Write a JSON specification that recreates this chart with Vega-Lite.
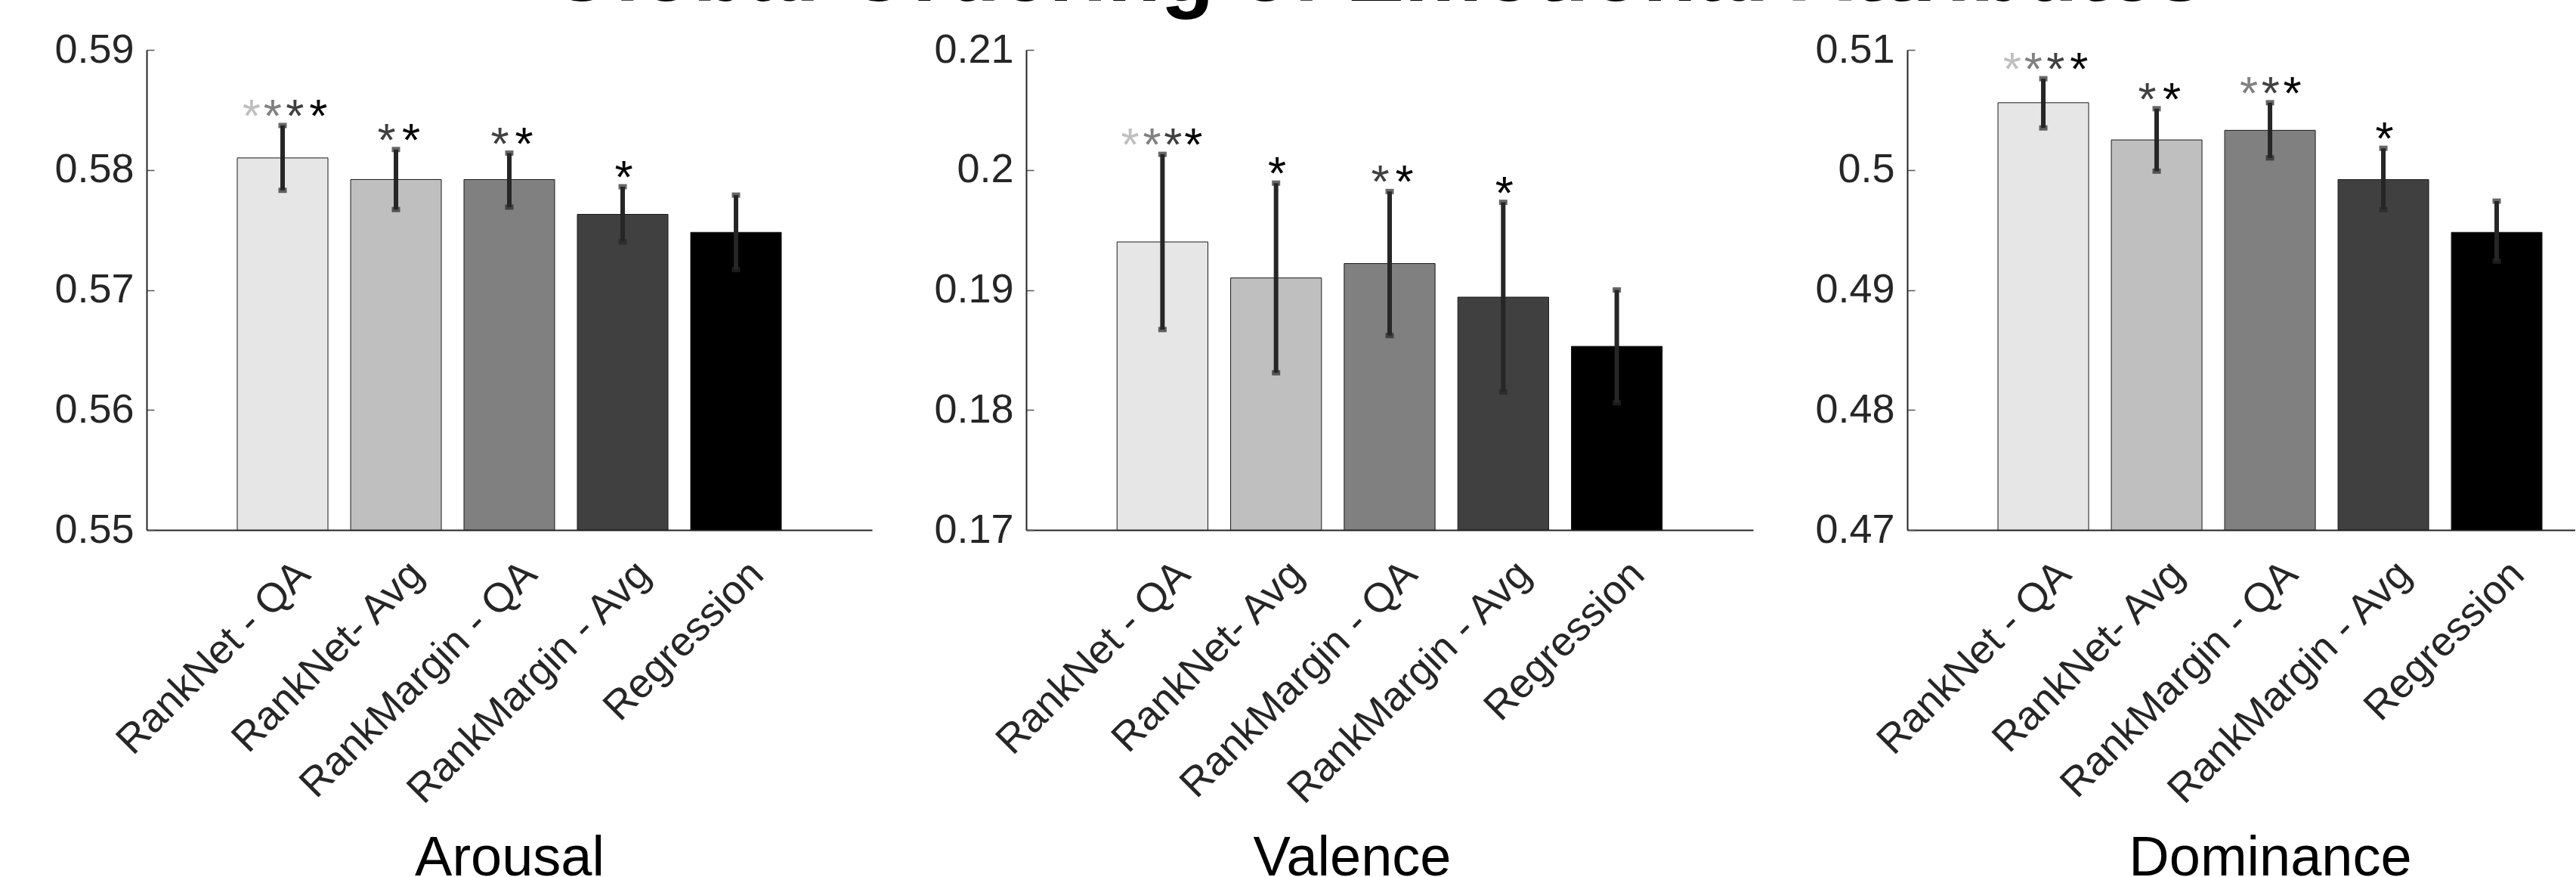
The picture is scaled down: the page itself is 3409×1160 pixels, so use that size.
{
  "$schema": "https://vega.github.io/schema/vega-lite/v6.json",
  "padding": {"left": 71, "top": -92, "right": 0, "bottom": -12},
  "background": "white",
  "title": {"text": "Global Ordering of Emotional Attributes", "font": "Liberation Sans", "fontSize": 116, "fontWeight": "bold", "color": "#000000", "anchor": "start", "frame": "group", "dx": 530, "baseline": "alphabetic", "offset": -78},
  "datasets": {
    "bars": [
      {"attr": "Arousal", "method": "RankNet - QA", "value": 0.5810, "lo": 0.5783, "hi": 0.5837},
      {"attr": "Arousal", "method": "RankNet- Avg", "value": 0.5792, "lo": 0.5767, "hi": 0.5817},
      {"attr": "Arousal", "method": "RankMargin - QA", "value": 0.5792, "lo": 0.5769, "hi": 0.5814},
      {"attr": "Arousal", "method": "RankMargin - Avg", "value": 0.5763, "lo": 0.5740, "hi": 0.5786},
      {"attr": "Arousal", "method": "Regression", "value": 0.5748, "lo": 0.5717, "hi": 0.5779},
      {"attr": "Valence", "method": "RankNet - QA", "value": 0.1940, "lo": 0.1867, "hi": 0.2013},
      {"attr": "Valence", "method": "RankNet- Avg", "value": 0.1910, "lo": 0.1831, "hi": 0.1989},
      {"attr": "Valence", "method": "RankMargin - QA", "value": 0.1922, "lo": 0.1862, "hi": 0.1982},
      {"attr": "Valence", "method": "RankMargin - Avg", "value": 0.1894, "lo": 0.1815, "hi": 0.1973},
      {"attr": "Valence", "method": "Regression", "value": 0.1853, "lo": 0.1806, "hi": 0.1900},
      {"attr": "Dominance", "method": "RankNet - QA", "value": 0.5056, "lo": 0.5035, "hi": 0.5076},
      {"attr": "Dominance", "method": "RankNet- Avg", "value": 0.5025, "lo": 0.4999, "hi": 0.5051},
      {"attr": "Dominance", "method": "RankMargin - QA", "value": 0.5033, "lo": 0.5010, "hi": 0.5056},
      {"attr": "Dominance", "method": "RankMargin - Avg", "value": 0.4992, "lo": 0.4967, "hi": 0.5018},
      {"attr": "Dominance", "method": "Regression", "value": 0.4948, "lo": 0.4924, "hi": 0.4974}
    ],
    "stars": [
      {"attr": "Arousal", "method": "RankNet - QA", "cmp": "RankNet- Avg", "pos": -1.4, "hi": 0.5837},
      {"attr": "Arousal", "method": "RankNet - QA", "cmp": "RankMargin - QA", "pos": -0.45, "hi": 0.5837},
      {"attr": "Arousal", "method": "RankNet - QA", "cmp": "RankMargin - Avg", "pos": 0.55, "hi": 0.5837},
      {"attr": "Arousal", "method": "RankNet - QA", "cmp": "Regression", "pos": 1.6, "hi": 0.5837},
      {"attr": "Arousal", "method": "RankNet- Avg", "cmp": "RankMargin - Avg", "pos": -0.42, "hi": 0.5817},
      {"attr": "Arousal", "method": "RankNet- Avg", "cmp": "Regression", "pos": 0.68, "hi": 0.5817},
      {"attr": "Arousal", "method": "RankMargin - QA", "cmp": "RankMargin - Avg", "pos": -0.42, "hi": 0.5814},
      {"attr": "Arousal", "method": "RankMargin - QA", "cmp": "Regression", "pos": 0.66, "hi": 0.5814},
      {"attr": "Arousal", "method": "RankMargin - Avg", "cmp": "Regression", "pos": 0.05, "hi": 0.5786},
      {"attr": "Valence", "method": "RankNet - QA", "cmp": "RankNet- Avg", "pos": -1.45, "hi": 0.2013},
      {"attr": "Valence", "method": "RankNet - QA", "cmp": "RankMargin - QA", "pos": -0.47, "hi": 0.2013},
      {"attr": "Valence", "method": "RankNet - QA", "cmp": "RankMargin - Avg", "pos": 0.47, "hi": 0.2013},
      {"attr": "Valence", "method": "RankNet - QA", "cmp": "Regression", "pos": 1.39, "hi": 0.2013},
      {"attr": "Valence", "method": "RankNet- Avg", "cmp": "Regression", "pos": 0.05, "hi": 0.1989},
      {"attr": "Valence", "method": "RankMargin - QA", "cmp": "RankMargin - Avg", "pos": -0.42, "hi": 0.1982},
      {"attr": "Valence", "method": "RankMargin - QA", "cmp": "Regression", "pos": 0.66, "hi": 0.1982},
      {"attr": "Valence", "method": "RankMargin - Avg", "cmp": "Regression", "pos": 0.05, "hi": 0.1973},
      {"attr": "Dominance", "method": "RankNet - QA", "cmp": "RankNet- Avg", "pos": -1.4, "hi": 0.5076},
      {"attr": "Dominance", "method": "RankNet - QA", "cmp": "RankMargin - QA", "pos": -0.45, "hi": 0.5076},
      {"attr": "Dominance", "method": "RankNet - QA", "cmp": "RankMargin - Avg", "pos": 0.55, "hi": 0.5076},
      {"attr": "Dominance", "method": "RankNet - QA", "cmp": "Regression", "pos": 1.6, "hi": 0.5076},
      {"attr": "Dominance", "method": "RankNet- Avg", "cmp": "RankMargin - Avg", "pos": -0.42, "hi": 0.5051},
      {"attr": "Dominance", "method": "RankNet- Avg", "cmp": "Regression", "pos": 0.68, "hi": 0.5051},
      {"attr": "Dominance", "method": "RankMargin - QA", "cmp": "RankMargin - QA", "pos": -0.95, "hi": 0.5056},
      {"attr": "Dominance", "method": "RankMargin - QA", "cmp": "RankMargin - Avg", "pos": 0.03, "hi": 0.5056},
      {"attr": "Dominance", "method": "RankMargin - QA", "cmp": "Regression", "pos": 1.0, "hi": 0.5056},
      {"attr": "Dominance", "method": "RankMargin - Avg", "cmp": "Regression", "pos": 0.05, "hi": 0.5018}
    ]
  },
  "hconcat": [
    {
      "width": 960, "height": 635,
      "encoding": {
        "x": {"field": "method", "type": "nominal", "sort": null, "scale": {"type": "band", "domain": ["RankNet - QA", "RankNet- Avg", "RankMargin - QA", "RankMargin - Avg", "Regression"], "paddingInner": 0.2, "paddingOuter": 0.8},
              "axis": {"title": "Arousal", "labelAngle": -45, "labelAlign": "right", "labelBaseline": "middle", "labelFontSize": 54, "labelColor": "#262626", "labelPadding": 50, "labelOffset": 28, "labelLimit": 0, "ticks": false, "domainColor": "#262626", "domainWidth": 2, "titleFontSize": 74, "titleFontWeight": "normal", "titleColor": "#000000", "titleX": 480, "titleY": 456, "titleBaseline": "alphabetic", "titleAlign": "center"}}
      },
      "layer": [
        {"data": {"name": "bars"}, "transform": [{"filter": "datum.attr === 'Arousal'"}],
         "mark": {"type": "bar", "stroke": "#1a1a1a", "strokeWidth": 1},
         "encoding": {
           "y": {"field": "value", "type": "quantitative", "title": null, "scale": {"domain": [0.55, 0.59], "nice": false, "zero": false},
                 "axis": {"title": null, "values": [0.55, 0.56, 0.57, 0.58, 0.59], "format": ".2~f", "labelFontSize": 54, "labelColor": "#262626", "labelPadding": 27, "labelBaseline": "middle", "domainColor": "#262626", "domainWidth": 2, "tickColor": "#555555", "tickSize": -10, "tickWidth": 1.5}},
           "y2": {"datum": 0.55},
           "color": {"field": "method", "type": "nominal", "scale": {"domain": ["RankNet - QA", "RankNet- Avg", "RankMargin - QA", "RankMargin - Avg", "Regression"], "range": ["#e6e6e6", "#bfbfbf", "#808080", "#404040", "#000000"]}, "legend": null}
         }},
        {"data": {"name": "bars"}, "transform": [{"filter": "datum.attr === 'Arousal'"}],
         "mark": {"type": "rule", "color": "#262626", "strokeWidth": 6},
         "encoding": {"y": {"field": "lo", "type": "quantitative", "title": null}, "y2": {"field": "hi"}}},
        {"data": {"name": "bars"}, "transform": [{"filter": "datum.attr === 'Arousal'"}],
         "mark": {"type": "tick", "color": "#262626", "size": 11, "thickness": 7, "orient": "horizontal"},
         "encoding": {"y": {"field": "lo", "type": "quantitative", "title": null}}},
        {"data": {"name": "bars"}, "transform": [{"filter": "datum.attr === 'Arousal'"}],
         "mark": {"type": "tick", "color": "#262626", "size": 11, "thickness": 7, "orient": "horizontal"},
         "encoding": {"y": {"field": "hi", "type": "quantitative", "title": null}}},
        {"data": {"name": "stars"}, "transform": [{"filter": "datum.attr === 'Arousal'"}],
         "mark": {"type": "text", "text": "*", "fontSize": 62, "font": "Liberation Sans", "baseline": "alphabetic", "dy": 8, "dx": {"expr": "datum.pos * 29.5"}},
         "encoding": {"y": {"field": "hi", "type": "quantitative", "title": null},
                      "color": {"field": "cmp", "type": "nominal", "legend": null}}}
      ]
    },
    {
      "width": 962, "height": 635,
      "encoding": {
        "x": {"field": "method", "type": "nominal", "sort": null, "scale": {"type": "band", "domain": ["RankNet - QA", "RankNet- Avg", "RankMargin - QA", "RankMargin - Avg", "Regression"], "paddingInner": 0.2, "paddingOuter": 0.8},
              "axis": {"title": "Valence", "labelAngle": -45, "labelAlign": "right", "labelBaseline": "middle", "labelFontSize": 54, "labelColor": "#262626", "labelPadding": 50, "labelOffset": 28, "labelLimit": 0, "ticks": false, "domainColor": "#262626", "domainWidth": 2, "titleFontSize": 74, "titleFontWeight": "normal", "titleColor": "#000000", "titleX": 431, "titleY": 456, "titleBaseline": "alphabetic", "titleAlign": "center"}}
      },
      "layer": [
        {"data": {"name": "bars"}, "transform": [{"filter": "datum.attr === 'Valence'"}],
         "mark": {"type": "bar", "stroke": "#1a1a1a", "strokeWidth": 1},
         "encoding": {
           "y": {"field": "value", "type": "quantitative", "title": null, "scale": {"domain": [0.17, 0.21], "nice": false, "zero": false},
                 "axis": {"title": null, "values": [0.17, 0.18, 0.19, 0.2, 0.21], "format": ".2~f", "labelFontSize": 54, "labelColor": "#262626", "labelPadding": 27, "labelBaseline": "middle", "domainColor": "#262626", "domainWidth": 2, "tickColor": "#555555", "tickSize": -10, "tickWidth": 1.5}},
           "y2": {"datum": 0.17},
           "color": {"field": "method", "type": "nominal", "scale": {"domain": ["RankNet - QA", "RankNet- Avg", "RankMargin - QA", "RankMargin - Avg", "Regression"], "range": ["#e6e6e6", "#bfbfbf", "#808080", "#404040", "#000000"]}, "legend": null}
         }},
        {"data": {"name": "bars"}, "transform": [{"filter": "datum.attr === 'Valence'"}],
         "mark": {"type": "rule", "color": "#262626", "strokeWidth": 6},
         "encoding": {"y": {"field": "lo", "type": "quantitative", "title": null}, "y2": {"field": "hi"}}},
        {"data": {"name": "bars"}, "transform": [{"filter": "datum.attr === 'Valence'"}],
         "mark": {"type": "tick", "color": "#262626", "size": 11, "thickness": 7, "orient": "horizontal"},
         "encoding": {"y": {"field": "lo", "type": "quantitative", "title": null}}},
        {"data": {"name": "bars"}, "transform": [{"filter": "datum.attr === 'Valence'"}],
         "mark": {"type": "tick", "color": "#262626", "size": 11, "thickness": 7, "orient": "horizontal"},
         "encoding": {"y": {"field": "hi", "type": "quantitative", "title": null}}},
        {"data": {"name": "stars"}, "transform": [{"filter": "datum.attr === 'Valence'"}],
         "mark": {"type": "text", "text": "*", "fontSize": 62, "font": "Liberation Sans", "baseline": "alphabetic", "dy": 8, "dx": {"expr": "datum.pos * 29.5"}},
         "encoding": {"y": {"field": "hi", "type": "quantitative", "title": null},
                      "color": {"field": "cmp", "type": "nominal", "legend": null}}}
      ]
    },
    {
      "width": 884, "height": 635,
      "encoding": {
        "x": {"field": "method", "type": "nominal", "sort": null, "scale": {"type": "band", "domain": ["RankNet - QA", "RankNet- Avg", "RankMargin - QA", "RankMargin - Avg", "Regression"], "paddingInner": 0.2, "paddingOuter": 0.5467, "align": 0.732},
              "axis": {"title": "Dominance", "labelAngle": -45, "labelAlign": "right", "labelBaseline": "middle", "labelFontSize": 54, "labelColor": "#262626", "labelPadding": 50, "labelOffset": 28, "labelLimit": 0, "ticks": false, "domainColor": "#262626", "domainWidth": 2, "titleFontSize": 74, "titleFontWeight": "normal", "titleColor": "#000000", "titleX": 480, "titleY": 456, "titleBaseline": "alphabetic", "titleAlign": "center"}}
      },
      "layer": [
        {"data": {"name": "bars"}, "transform": [{"filter": "datum.attr === 'Dominance'"}],
         "mark": {"type": "bar", "stroke": "#1a1a1a", "strokeWidth": 1},
         "encoding": {
           "y": {"field": "value", "type": "quantitative", "title": null, "scale": {"domain": [0.47, 0.51], "nice": false, "zero": false},
                 "axis": {"title": null, "values": [0.47, 0.48, 0.49, 0.5, 0.51], "format": ".2~f", "labelFontSize": 54, "labelColor": "#262626", "labelPadding": 27, "labelBaseline": "middle", "domainColor": "#262626", "domainWidth": 2, "tickColor": "#555555", "tickSize": -10, "tickWidth": 1.5}},
           "y2": {"datum": 0.47},
           "color": {"field": "method", "type": "nominal", "scale": {"domain": ["RankNet - QA", "RankNet- Avg", "RankMargin - QA", "RankMargin - Avg", "Regression"], "range": ["#e6e6e6", "#bfbfbf", "#808080", "#404040", "#000000"]}, "legend": null}
         }},
        {"data": {"name": "bars"}, "transform": [{"filter": "datum.attr === 'Dominance'"}],
         "mark": {"type": "rule", "color": "#262626", "strokeWidth": 6},
         "encoding": {"y": {"field": "lo", "type": "quantitative", "title": null}, "y2": {"field": "hi"}}},
        {"data": {"name": "bars"}, "transform": [{"filter": "datum.attr === 'Dominance'"}],
         "mark": {"type": "tick", "color": "#262626", "size": 11, "thickness": 7, "orient": "horizontal"},
         "encoding": {"y": {"field": "lo", "type": "quantitative", "title": null}}},
        {"data": {"name": "bars"}, "transform": [{"filter": "datum.attr === 'Dominance'"}],
         "mark": {"type": "tick", "color": "#262626", "size": 11, "thickness": 7, "orient": "horizontal"},
         "encoding": {"y": {"field": "hi", "type": "quantitative", "title": null}}},
        {"data": {"name": "stars"}, "transform": [{"filter": "datum.attr === 'Dominance'"}],
         "mark": {"type": "text", "text": "*", "fontSize": 62, "font": "Liberation Sans", "baseline": "alphabetic", "dy": 8, "dx": {"expr": "datum.pos * 29.5"}},
         "encoding": {"y": {"field": "hi", "type": "quantitative", "title": null},
                      "color": {"field": "cmp", "type": "nominal", "legend": null}}}
      ]
    }
  ],
  "spacing": 204,
  "bounds": "flush",
  "config": {
    "view": {"stroke": null},
    "axis": {"grid": false, "labelFont": "Liberation Sans", "titleFont": "Liberation Sans"},
    "text": {"font": "Liberation Sans"}
  }
}
